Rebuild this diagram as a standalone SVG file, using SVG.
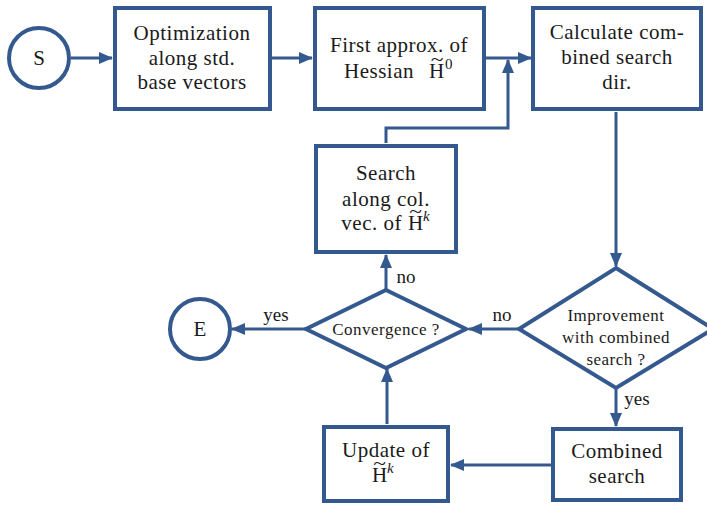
<svg xmlns="http://www.w3.org/2000/svg" width="707" height="505" viewBox="0 0 707 505">
<defs>
<marker id="a" markerUnits="userSpaceOnUse" markerWidth="14" markerHeight="12" refX="13" refY="6" orient="auto">
<path d="M0,0 L14,6 L0,12 Z" fill="#34598f"/>
</marker>
</defs>
<rect width="707" height="505" fill="#fff"/>
<g font-family="Liberation Serif" text-anchor="middle">
<g id="connectors" fill="none" stroke="#34598f" stroke-width="3">
<line x1="71" y1="58" x2="112" y2="58" marker-end="url(#a)"/>
<line x1="272" y1="58" x2="312" y2="58" marker-end="url(#a)"/>
<line x1="486" y1="58" x2="531" y2="58" marker-end="url(#a)"/>
<polyline points="386,143 386,128 508,128 508,60" marker-end="url(#a)"/>
<line x1="616" y1="112" x2="616" y2="266" marker-end="url(#a)"/>
<line x1="519" y1="329" x2="469" y2="329" marker-end="url(#a)"/>
<line x1="616" y1="388" x2="616" y2="426" marker-end="url(#a)"/>
<line x1="552" y1="465" x2="451" y2="465" marker-end="url(#a)"/>
<line x1="387" y1="424" x2="387" y2="369" marker-end="url(#a)"/>
<line x1="307" y1="329" x2="232" y2="329" marker-end="url(#a)"/>
<line x1="386" y1="290" x2="386" y2="255" marker-end="url(#a)"/>
<g fill="#1a1a1a" stroke="none" font-size="19">
<text x="276" y="321">yes</text>
<text x="406" y="283">no</text>
<text x="502" y="321">no</text>
<text x="637" y="405">yes</text>
</g>
</g>
<g id="S">
<circle cx="39" cy="58" r="30" fill="#fff" stroke="#34598f" stroke-width="4"/>
<text x="39" y="65" font-size="21" fill="#1a1a1a">S</text>
</g>
<g id="opt" font-size="21" letter-spacing="0.5" fill="#1a1a1a">
<rect x="115" y="8" width="155" height="101" fill="#fff" stroke="#34598f" stroke-width="4"/>
<text x="192" y="40">Optimization</text>
<text x="192" y="65">along std.</text>
<text x="192" y="89">base vectors</text>
</g>
<g id="first" font-size="21" letter-spacing="0.5" fill="#1a1a1a">
<rect x="315" y="8" width="169" height="101" fill="#fff" stroke="#34598f" stroke-width="4"/>
<text x="399" y="52">First approx. of</text>
<text x="414" y="78" text-anchor="end">Hessian</text>
<text x="429" y="78" text-anchor="start">H</text>
<text transform="translate(437,66) scale(1.3,1)" font-size="18" letter-spacing="0">~</text>
<text x="445" y="69" font-size="15" text-anchor="start">0</text>
</g>
<g id="calc" font-size="21" letter-spacing="0.5" fill="#1a1a1a">
<rect x="533" y="8" width="168" height="101" fill="#fff" stroke="#34598f" stroke-width="4"/>
<text x="617" y="39">Calculate com-</text>
<text x="617" y="64">bined search</text>
<text x="617" y="89">dir.</text>
</g>
<g id="searchcol" font-size="21" letter-spacing="0.5" fill="#1a1a1a">
<rect x="316" y="146" width="140" height="106" fill="#fff" stroke="#34598f" stroke-width="4"/>
<text x="386" y="180">Search</text>
<text x="386" y="206">along col.</text>
<text x="402" y="230" text-anchor="end">vec. of</text>
<text x="408" y="230" text-anchor="start">H</text>
<text transform="translate(415.5,218) scale(1.3,1)" font-size="18" letter-spacing="0">~</text>
<text x="423" y="221" font-size="15" font-style="italic" text-anchor="start">k</text>
</g>
<g id="conv" font-size="17" letter-spacing="0.5" fill="#1a1a1a">
<polygon points="386,290 466,329 386,368 306,329" fill="#fff" stroke="#34598f" stroke-width="4"/>
<text x="386" y="335">Convergence ?</text>
</g>
<g id="E">
<circle cx="200" cy="329" r="30" fill="#fff" stroke="#34598f" stroke-width="4"/>
<text x="200" y="336" font-size="21" fill="#1a1a1a">E</text>
</g>
<g id="impr" font-size="17" letter-spacing="0.5" fill="#1a1a1a">
<polygon points="616,268 713,329 616,388 519,329" fill="#fff" stroke="#34598f" stroke-width="4"/>
<text x="616" y="321">Improvement</text>
<text x="616" y="343">with combined</text>
<text x="616" y="365">search ?</text>
</g>
<g id="comb" font-size="21" letter-spacing="0.5" fill="#1a1a1a">
<rect x="553" y="429" width="128" height="71" fill="#fff" stroke="#34598f" stroke-width="4"/>
<text x="617" y="458">Combined</text>
<text x="617" y="483">search</text>
</g>
<g id="update" font-size="21" letter-spacing="0.5" fill="#1a1a1a">
<rect x="324" y="427" width="124" height="74" fill="#fff" stroke="#34598f" stroke-width="4"/>
<text x="386" y="457">Update of</text>
<text x="372" y="482" text-anchor="start">H</text>
<text transform="translate(379.5,470) scale(1.3,1)" font-size="18" letter-spacing="0">~</text>
<text x="387" y="473" font-size="15" font-style="italic" text-anchor="start">k</text>
</g>
</g>
</svg>
